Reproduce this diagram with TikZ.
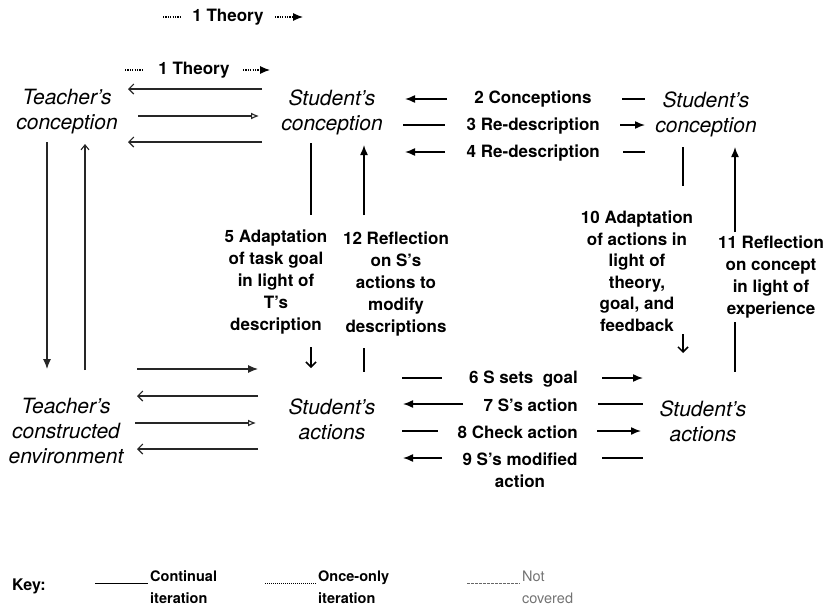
\documentclass[tikz,border=0pt]{standalone}
\usepackage{fontspec}
\setmainfont{TeX Gyre Heros}
\usetikzlibrary{arrows.meta}
\begin{document}
\begin{tikzpicture}[x=1pt,y=-1pt,
  nm/.style={font=\fontsize{21}{25}\selectfont\itshape, align=center, inner sep=0pt},
  lab/.style={font=\fontsize{17}{22}\selectfont\bfseries, align=center, inner sep=0pt},
  keyf/.style={font=\fontsize{14.5}{22}\selectfont\bfseries, align=left, inner sep=0pt},
  ln/.style={line width=1.5pt, line cap=butt},
  thin/.style={line width=1.1pt, black!85},
  fa/.style={-{Latex[length=10pt,width=8pt]}},
  ba/.style={-{Straight Barb[length=5pt,width=10pt]}},
  oa/.style={-{Latex[open,length=8pt,width=7pt]}},
  dt/.style={line width=1.1pt, dash pattern=on 1.2pt off 1.2pt}
]
\useasboundingbox (0,0) rectangle (823,608);

% main nodes
\node[nm] (tc)  at (67,112)  {Teacher's\\conception};
\node[nm] (sc)  at (332,112) {Student's\\conception};
\node[nm] (sc2) at (706,114) {Student's\\conception};
\node[nm] (te)  at (66,431)  {Teacher's\\constructed\\environment};
\node[nm] (sa)  at (332,419) {Student's\\actions};
\node[nm] (sa2) at (703,421) {Student's\\actions};

% labels
\node[lab] (t1a) at (228,17) {1 Theory};
\node[lab] (t1b) at (194,70) {1 Theory};
\node[lab] (l2) at (533,99) {2 Conceptions};
\node[lab,anchor=east] (l3) at (600,126) {3 Re-description};
\node[lab,anchor=east] (l4) at (600,153) {4 Re-description};
\node[lab] (l5)  at (276,282) {5 Adaptation\\of task goal\\in light of\\T's\\description};
\node[lab] (l12) at (396,284) {12 Reflection\\on S's\\actions to\\modify\\descriptions};
\node[lab,font=\fontsize{17}{21.5}\selectfont\bfseries] (l10) at (637,271) {10 Adaptation\\of actions in\\light of\\theory,\\goal, and\\feedback};
\node[lab] (l11) at (771,277) {11 Reflection\\on concept\\in light of\\experience};
\node[lab,anchor=east] (l6) at (578,379) {6 S sets\ \ goal};
\node[lab,anchor=east] (l7) at (578,405) {7 S's action};
\node[lab,anchor=east] (l8) at (578,432) {8 Check action};
\node[lab] (l9) at (520,470) {9 S's modified\\action};

% 1 Theory dotted
\draw[dt] (163,17) -- (180,17);
\draw[dt,fa] (275,17) -- (303,17);
\draw[dt] (125,70) -- (143,70);
\draw[dt,fa] (243,70) -- (270,70);

% Teacher's conception <-> Student's conception
\draw[thin,ba] (262,89) -- (128,89);
\draw[thin,oa] (138,116) -- (259,116);
\draw[thin,ba] (262,142) -- (128,142);

% Teacher's constructed environment <-> Student's actions
\draw[thin,fa] (137,369) -- (258,369);
\draw[thin,ba] (258,396) -- (137,396);
\draw[thin,oa] (135,423) -- (256,423);
\draw[thin,ba] (258,449) -- (137,449);

% left verticals
\draw[thin,fa] (47,142) -- (47,369);
\draw[thin,-{Straight Barb[length=5pt,width=8pt]}] (85,370) -- (85,144);

% middle verticals
\draw[ln] (311,143) -- (311,215);
\draw[ln,ba] (311,347) -- (311,368);
\draw[ln,fa] (364,215) -- (364,145);
\draw[ln] (364,348) -- (364,372);

% right verticals
\draw[ln] (683,147) -- (683,186);
\draw[ln,ba] (683,334) -- (683,353);
\draw[ln,fa] (735,232) -- (735,147);
\draw[ln] (735,322) -- (735,372);

% rows 2-4
\draw[ln,fa] (447,99) -- (405,99);
\draw[ln] (622,99) -- (645,99);
\draw[ln] (403,125) -- (445,125);
\draw[ln,fa] (620,125) -- (645,125);
\draw[ln,fa] (445,152) -- (405,152);
\draw[ln] (623,152) -- (645,152);

% rows 6-9
\draw[ln] (402,378) -- (442,378);
\draw[ln,fa] (602,378) -- (643,378);
\draw[ln,fa] (463,404) -- (403,404);
\draw[ln] (598,404) -- (643,404);
\draw[ln] (402,431) -- (438,431);
\draw[ln,fa] (597,431) -- (641,431);
\draw[ln,fa] (442,458) -- (403,458);
\draw[ln] (602,458) -- (643,458);

% key
\node[keyf,anchor=west,font=\fontsize{16}{22}\selectfont\bfseries] (key) at (12,586) {Key:};
\draw[line width=0.9pt] (95,583) -- (148,583);
\node[keyf,anchor=west] (k1) at (150,587) {Continual\\iteration};
\draw[line width=0.9pt, dash pattern=on 1pt off 1pt] (265,583) -- (317,583);
\node[keyf,anchor=west] (k2) at (318,587) {Once-only\\iteration};
\draw[line width=0.9pt, black!60, dash pattern=on 3pt off 1pt] (467,583) -- (520,583);
\node[keyf,anchor=west,font=\fontsize{14.5}{22}\selectfont,text=black!55] (k3) at (522,587) {Not\\covered};
\end{tikzpicture}
\end{document}
